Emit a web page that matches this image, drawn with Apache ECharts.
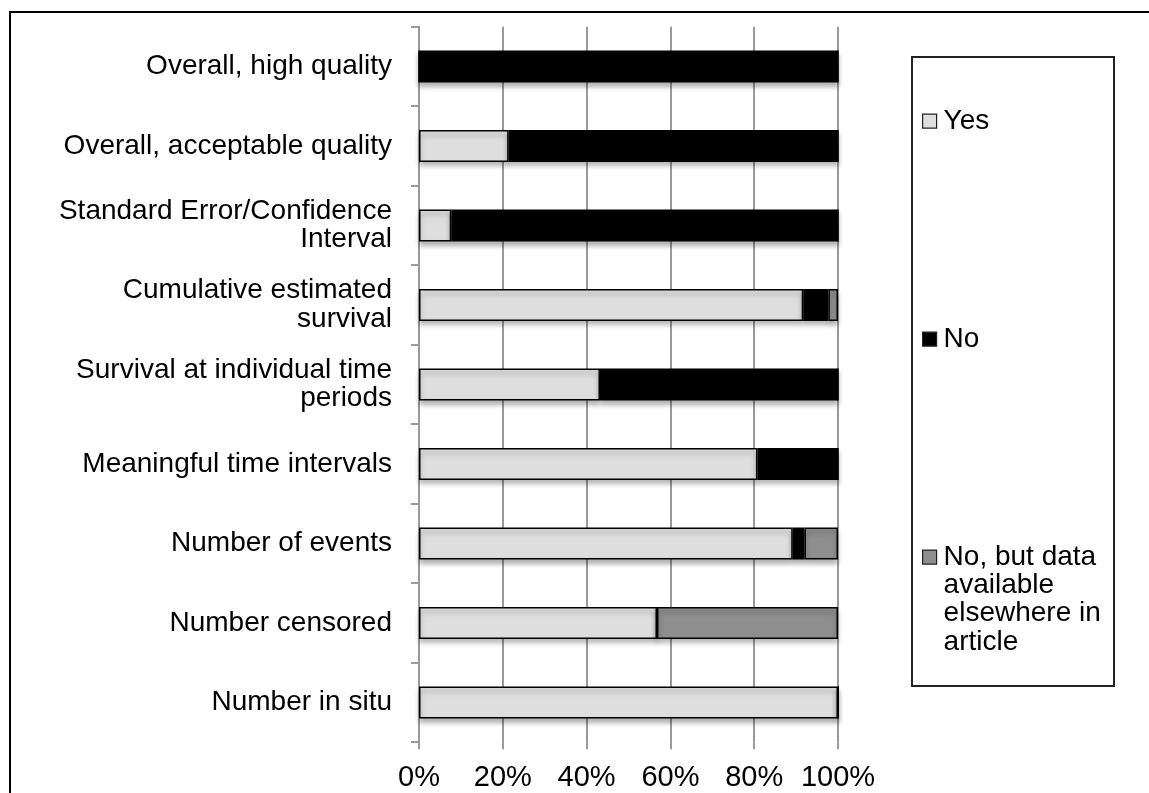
<!DOCTYPE html>
<html>
<head>
<meta charset="utf-8">
<script src="https://cdn.jsdelivr.net/npm/echarts@6/dist/echarts.min.js"></script>
<style>
html,body{margin:0;padding:0;background:#fff;}
#chart{width:1149px;height:793px;}
</style>
</head>
<body>
<div id="chart"></div>
<script>
const categories = [
  'Overall, high quality',
  'Overall, acceptable quality',
  'Standard Error/Confidence\nInterval',
  'Cumulative estimated\nsurvival',
  'Survival at individual time\nperiods',
  'Meaningful time intervals',
  'Number of events',
  'Number censored',
  'Number in situ'
];
const yesValues = [0, 21.4, 7.7, 91.7, 43.2, 80.8, 89.2, 56.8, 100];
const noValues = [100, 78.6, 92.3, 6.0, 56.8, 19.2, 2.8, 0, 0];
const noButDataValues = [0, 0, 0, 2.3, 0, 0, 8.0, 43.2, 0];
const seriesNames = ['Yes', 'No', 'No, but data available elsewhere in article'];
const xTicks = [0, 20, 40, 60, 80, 100];

const FONT = 'Liberation Sans, Arial, Helvetica, sans-serif';
const chart = echarts.init(document.getElementById('chart'), null, {renderer: 'canvas'});

function barStyle(color) {
  return {
    color: color,
    borderColor: '#000',
    borderWidth: 1.5,
    shadowColor: 'rgba(0,0,0,0.3)',
    shadowBlur: 5,
    shadowOffsetY: 4
  };
}
const legendBase = {
  orient: 'vertical',
  left: 922,
  padding: 0,
  icon: 'rect',
  itemWidth: 14,
  itemHeight: 14,
  selectedMode: false,
  itemStyle: {shadowBlur: 0, shadowOffsetY: 0, shadowColor: 'transparent', borderWidth: 1.2, borderColor: '#222'},
  textStyle: {fontFamily: FONT, fontSize: 28, color: '#000', lineHeight: 28.3, padding: [0, 0, 0, 2]}
};

chart.setOption({
  animation: false,
  backgroundColor: '#fff',
  textStyle: {fontFamily: FONT},
  graphic: [
    {type: 'rect', shape: {x: 10, y: 12, width: 1200, height: 900},
     style: {fill: 'none', stroke: '#000', lineWidth: 2}, silent: true, z: -10},
    {type: 'rect', shape: {x: 912, y: 57, width: 202, height: 629},
     style: {fill: 'none', stroke: '#222', lineWidth: 2}, silent: true, z: -10}
  ],
  legend: [
    Object.assign({}, legendBase, {top: 107, data: [seriesNames[0]]}),
    Object.assign({}, legendBase, {top: 325, data: [seriesNames[1]]}),
    Object.assign({}, legendBase, {top: 458, data: [seriesNames[2]],
      formatter: function () { return '\n\n\nNo, but data\navailable\nelsewhere in\narticle'; }})
  ],
  grid: {left: 419, right: 311, top: 26.7, bottom: 50.8},
  xAxis: {
    type: 'value',
    min: xTicks[0],
    max: xTicks[xTicks.length - 1],
    interval: 20,
    axisLine: {show: false},
    axisTick: {show: true, length: 7, lineStyle: {color: '#9a9a9a', width: 2}},
    splitLine: {show: true, lineStyle: {color: '#9a9a9a', width: 2}},
    axisLabel: {formatter: '{value}%', fontSize: 29, color: '#000', margin: 21, fontFamily: FONT}
  },
  yAxis: {
    type: 'category',
    inverse: true,
    data: categories,
    axisLine: {show: true, lineStyle: {color: '#9a9a9a', width: 2}},
    axisTick: {show: true, length: 8, lineStyle: {color: '#9a9a9a', width: 2}},
    axisLabel: {fontSize: 28, color: '#000', margin: 27, lineHeight: 28.5, fontFamily: FONT}
  },
  series: [
    {name: seriesNames[0], type: 'bar', stack: 'total', barWidth: 32, data: yesValues, itemStyle: barStyle('#dedede')},
    {name: seriesNames[1], type: 'bar', stack: 'total', barWidth: 32, data: noValues, itemStyle: barStyle('#000000')},
    {name: seriesNames[2], type: 'bar', stack: 'total', barWidth: 32, data: noButDataValues, itemStyle: barStyle('#8e8e8e')}
  ]
});
</script>
</body>
</html>
